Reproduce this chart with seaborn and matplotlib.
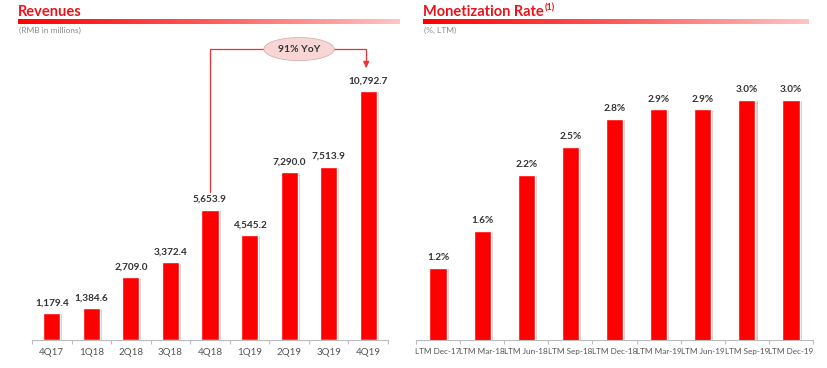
import numpy as np
import pandas as pd
import matplotlib
matplotlib.use("Agg")
import matplotlib.pyplot as plt
import matplotlib.patheffects as pe
from matplotlib.colors import LinearSegmentedColormap
import seaborn as sns

# data
quarters = ["4Q17", "1Q18", "2Q18", "3Q18", "4Q18", "1Q19", "2Q19", "3Q19", "4Q19"]
revenues = [1179.4, 1384.6, 2709.0, 3372.4, 5653.9, 4545.2, 7290.0, 7513.9, 10792.7]
ltm_periods = ["LTM Dec-17", "LTM Mar-18", "LTM Jun-18", "LTM Sep-18", "LTM Dec-18",
               "LTM Mar-19", "LTM Jun-19", "LTM Sep-19", "LTM Dec-19"]
monetization = [1.2, 1.6, 2.2, 2.5, 2.8, 2.9, 2.9, 3.0, 3.0]
yoy_text = "91% YoY"

RED = "#ff0000"
TITLE_RED = "#e8141b"

sns.set_theme(style="white")
plt.rcParams["font.family"] = ["Lato", "DejaVu Sans"]

fig = plt.figure(figsize=(8.27, 3.68), dpi=100)
W, H = 827, 368


def px_axes(x0, y0, x1, y1):
    # pixel box (top-left origin) -> figure axes
    return fig.add_axes([x0 / W, 1 - y1 / H, (x1 - x0) / W, (y1 - y0) / H])


def header(x0, x1, title, sub, sup=None):
    t = fig.text(x0 / W, 1 - 12 / H, title, color=TITLE_RED, fontsize=10.5,
                 fontweight="bold", va="center", ha="left")
    if sup:
        fig.canvas.draw()
        bb = t.get_window_extent()
        fig.text(bb.x1 / W + 0.001, 1 - 8 / H, sup, color=TITLE_RED, fontsize=6.5,
                 fontweight="bold", va="center", ha="left")
    fig.text((x0 + 1) / W, 1 - 30 / H, sub, color="#8a8a8a", fontsize=6,
             va="center", ha="left")
    lax = px_axes(x0, 19, x1, 24)
    cmap = LinearSegmentedColormap.from_list("hdr", ["#ff0000", "#ff5a5a", "#ffc4c4"])
    lax.imshow(np.linspace(0, 1, 256)[None, :], aspect="auto", cmap=cmap)
    lax.axis("off")


def bar_panel(ax, cats, vals, width, ylim, fmt, tick_size=7):
    df = pd.DataFrame({"cat": cats, "val": vals})
    sns.barplot(data=df, x="cat", y="val", color=RED, saturation=1, width=width, ax=ax)
    for p in ax.patches:
        p.set_path_effects([pe.SimplePatchShadow(offset=(1.5, -1), shadow_rgbFace="#999999", alpha=0.5),
                            pe.Normal()])
    ax.bar_label(ax.containers[0], labels=[fmt(v) for v in vals], padding=4,
                 fontsize=7.2, fontweight="bold", color="#333333")
    ax.set_ylim(*ylim)
    ax.set_xlim(-0.5, len(cats) - 0.5)
    ax.set_xlabel("")
    ax.set_ylabel("")
    ax.set_yticks([])
    for s in ["top", "right", "left"]:
        ax.spines[s].set_visible(False)
    ax.spines["bottom"].set_color("#bbbbbb")
    ax.spines["bottom"].set_linewidth(0.8)
    ax.tick_params(axis="x", length=0, labelsize=tick_size, labelcolor="#555555", pad=6)
    ax.set_xticks(np.arange(-0.5, len(cats), 1), minor=True)
    ax.tick_params(axis="x", which="minor", length=3, color="#bbbbbb", width=0.8, bottom=True)
    ax.patch.set_alpha(0)


# Revenues panel
header(18, 400, "Revenues", "(RMB in millions)")
ax1 = px_axes(32, 40, 388, 340)
bar_panel(ax1, quarters, revenues, 0.43, (0, 13000), lambda v: f"{v:,.1f}")

# YoY bracket from 4Q18 to 4Q19
i0, i1 = 4, 8
top_y = max(revenues) * 1.168
xr = i1 - 0.05
ax1.plot([i0, i0, xr, xr], [revenues[i0] + 780, top_y, top_y, top_y - 600],
         color="#f03030", lw=0.9, zorder=3)
ax1.annotate("", xy=(xr, max(revenues) + 1000), xytext=(xr, top_y - 620),
             arrowprops=dict(arrowstyle="-|>", color="#f03030", lw=0.9, mutation_scale=9))
ax1.text(6.25, top_y, yoy_text, ha="center", va="center", fontsize=7.5, fontweight="bold",
         color="#333333", zorder=5,
         bbox=dict(boxstyle="ellipse,pad=0.35", fc="#f9d6d6", ec="#d8b0b0", lw=0.6))

# Monetization panel
header(423, 808, "Monetization Rate", "(%, LTM)", sup="(1)")
ax2 = px_axes(416, 40, 813, 340)
bar_panel(ax2, ltm_periods, monetization, 0.39, (0.43, 3.64), lambda v: f"{v:.1f}%",
          tick_size=5.9)

fig.savefig("out.png", dpi=100)
